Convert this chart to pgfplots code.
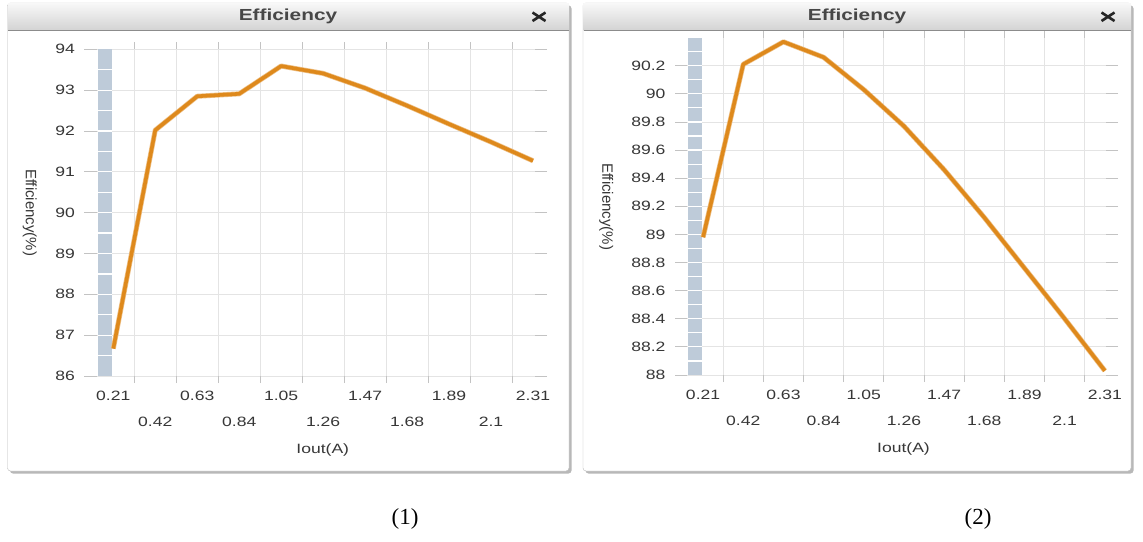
\documentclass[border=0pt]{standalone}
\usepackage{fontspec}
\setmainfont{Liberation Serif}
\newfontfamily\wsans[FakeStretch=1.3]{Liberation Sans}
\newfontfamily\nsans{Liberation Sans}
\usepackage{graphicx}
\usepackage{pgfplots}
\pgfplotsset{compat=1.18}

\definecolor{linec}{RGB}{222,137,28}
\definecolor{barc}{RGB}{190,203,217}
\definecolor{gridc}{RGB}{228,228,228}
\definecolor{tickc}{RGB}{195,195,195}
\definecolor{labc}{RGB}{55,55,55}
\definecolor{framec}{RGB}{185,185,185}

\newcommand\lowr[1]{\raisebox{-26pt}[\height][\depth]{#1}}

\pgfplotsset{
  effax/.style={
    scale only axis,
    axis line style={draw=none},
    tick align=outside,
    major tick length=12pt,
    tick style={color=tickc, line width=0.8pt},
    xtick style={/pgfplots/major tick length=7pt},
    grid style={color=gridc, line width=0.8pt},
    xmajorgrids=true, ymajorgrids=true,
    xmin=0.126,
    xtick={0.315,0.525,0.735,0.945,1.155,1.365,1.575,1.785,1.995,2.205},
    xticklabels={},
    extra x ticks={0.21,0.42,0.63,0.84,1.05,1.26,1.47,1.68,1.89,2.1,2.31},
    extra x tick labels={0.21,\lowr{0.42},0.63,\lowr{0.84},1.05,\lowr{1.26},1.47,\lowr{1.68},1.89,\lowr{2.1},2.31},
    extra x tick style={grid=none, tick style={draw=none}},
    ticklabel style={font=\fontsize{13.5}{16}\wsans, text=labc},
    yticklabel style={xshift=-6pt},
    xlabel={Iout(A)},
    ylabel={Efficiency(\%)},
    every axis x label/.style={at={(axis description cs:0.5,0)}, anchor=center, yshift=-74pt, xshift=7pt, font=\fontsize{13.5}{16}\wsans, text=labc},
    clip=false,
  }
}

\newcommand\win[4]{% left, right, title center, close center
  \fill[rounded corners=3pt, black!28] (#1pt+2.5pt,-5.5pt) rectangle (#2pt+2.5pt,-473.5pt);
  \filldraw[rounded corners=3pt, fill=white, draw=framec] (#1pt,-3pt) rectangle (#2pt,-471pt);
  \shade[top color=white!97!black, bottom color=white!83!black] (#1pt+0.5pt,-3.5pt) rectangle (#2pt-0.5pt,-30pt);
  \draw[black!45, line width=0.8pt] (#1pt+0.5pt,-30pt) -- (#2pt-0.5pt,-30pt);
  \node[font=\fontsize{16}{19}\wsans\bfseries, text=black!72] at (#3pt,-16.5pt) {Efficiency};
  \draw[line width=2.6pt, black!85] (#4pt-6.5pt,-12.5pt) -- (#4pt+6.5pt,-21pt);
  \draw[line width=2.6pt, black!85] (#4pt-6.5pt,-21pt) -- (#4pt+6.5pt,-12.5pt);
}

\begin{document}
\begin{tikzpicture}
\useasboundingbox (0,0) rectangle (1143pt,-541pt);
\fill[white] (0,0) rectangle (1143pt,-541pt);

\win{7.5}{569}{288}{539}
\win{583}{1131}{857}{1108}

% ---------- panel 1 ----------
\begin{axis}[effax,
  at={(96.5pt,-376pt)}, anchor=south west,
  width=438.5pt, height=326.7pt,
  xmax=2.32, ymin=86, ymax=94,
  ytick={86,87,88,89,90,91,92,93,94},
  yticklabels={86,87,88,89,90,91,92,93,94},
  every axis y label/.style={at={(axis description cs:-0.152,0.5)}, rotate=-90, anchor=center, font=\fontsize{15}{18}\nsans, text=labc},
]
\fill[barc] (axis cs:0.136,86) rectangle (axis cs:0.2015,94);
\pgfplotsinvokeforeach{86.5,87,87.5,88,88.5,89,89.5,90,90.5,91,91.5,92,92.5,93,93.5}{
  \draw[white, line width=1.2pt] (axis cs:0.136,#1) -- (axis cs:0.2015,#1);
}
\addplot[linec!55!white, line width=5pt, line join=round] coordinates {
  (0.21,86.67) (0.42,92.02) (0.63,92.85) (0.84,92.91) (1.05,93.59) (1.26,93.41)
  (1.47,93.05) (1.68,92.62) (1.89,92.17) (2.1,91.73) (2.31,91.27)
};
\addplot[linec, line width=3.6pt, line join=round] coordinates {
  (0.21,86.67) (0.42,92.02) (0.63,92.85) (0.84,92.91) (1.05,93.59) (1.26,93.41)
  (1.47,93.05) (1.68,92.62) (1.89,92.17) (2.1,91.73) (2.31,91.27)
};
\end{axis}

% ---------- panel 2 ----------
\begin{axis}[effax,
  at={(687pt,-375pt)}, anchor=south west,
  width=419pt, height=336.7pt,
  xmax=2.316, ymin=88, ymax=90.395,
  ytick={88,88.2,88.4,88.6,88.8,89,89.2,89.4,89.6,89.8,90,90.2},
  yticklabels={88,88.2,88.4,88.6,88.8,89,89.2,89.4,89.6,89.8,90,90.2},
  every axis y label/.style={at={(axis description cs:-0.193,0.5)}, rotate=-90, anchor=center, font=\fontsize{15}{18}\nsans, text=labc},
]
\fill[barc] (axis cs:0.133,88) rectangle (axis cs:0.2035,90.395);
\pgfplotsinvokeforeach{88.1,88.2,88.3,88.4,88.5,88.6,88.7,88.8,88.9,89,89.1,89.2,89.3,89.4,89.5,89.6,89.7,89.8,89.9,90,90.1,90.2,90.3}{
  \draw[white, line width=1.2pt] (axis cs:0.133,#1) -- (axis cs:0.2035,#1);
}
\addplot[linec!55!white, line width=5pt, line join=round] coordinates {
  (0.21,88.98) (0.42,90.21) (0.63,90.37) (0.84,90.26) (1.05,90.03) (1.26,89.77)
  (1.47,89.46) (1.68,89.12) (1.89,88.76) (2.1,88.40) (2.31,88.03)
};
\addplot[linec, line width=3.6pt, line join=round] coordinates {
  (0.21,88.98) (0.42,90.21) (0.63,90.37) (0.84,90.26) (1.05,90.03) (1.26,89.77)
  (1.47,89.46) (1.68,89.12) (1.89,88.76) (2.1,88.40) (2.31,88.03)
};
\end{axis}

\node[font=\fontsize{23}{27}\selectfont] at (405pt,-519pt) {(1)};
\node[font=\fontsize{23}{27}\selectfont] at (978pt,-519pt) {(2)};
\end{tikzpicture}
\end{document}
